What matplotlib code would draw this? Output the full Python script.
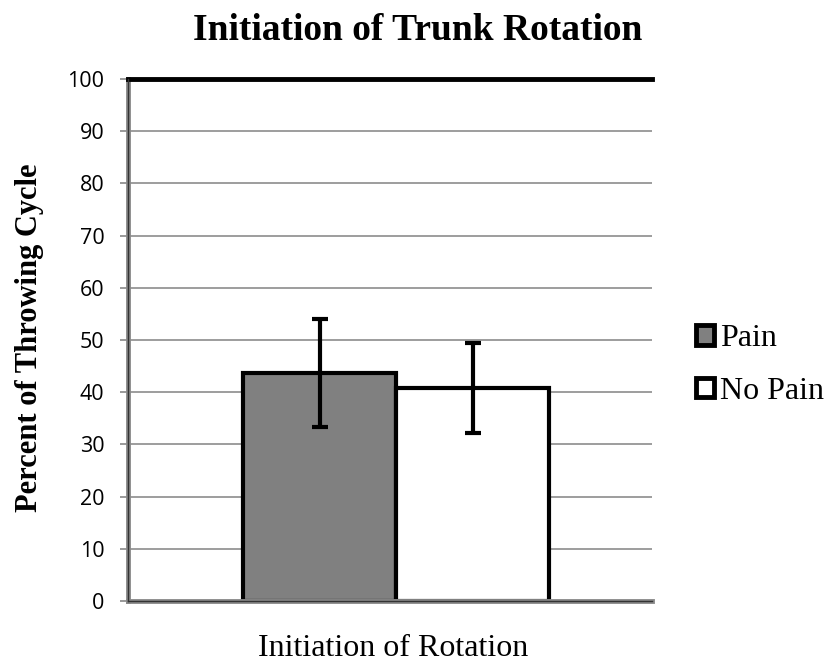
import matplotlib
matplotlib.use("Agg")
import matplotlib.pyplot as plt
from matplotlib.patches import Patch

categories = ["Initiation of Rotation"]
series = ["Pain", "No Pain"]
means = [43.7, 40.8]
errors = [10.3, 8.7]
colors = ["#808080", "#ffffff"]
yticks = [0, 10, 20, 30, 40, 50, 60, 70, 80, 90, 100]

fig = plt.figure(figsize=(8.3, 6.66), dpi=100)
ax = fig.add_axes([0.1542, 0.0976, 0.6313, 0.7838])

w = 0.292
offsets = [-w / 2, w / 2]
for i, s in enumerate(series):
    ax.bar(0 + offsets[i], means[i], width=w, color=colors[i], edgecolor="black",
           linewidth=3, label=s, zorder=3)
    ax.errorbar(0 + offsets[i], means[i], yerr=errors[i], fmt="none", ecolor="black",
                elinewidth=3, capsize=6, capthick=3, zorder=4)

ax.set_xlim(-0.512, 0.488)
ax.set_ylim(0, 100)
ax.set_yticks(yticks)
ax.set_yticklabels([str(v) for v in yticks], fontsize=15.5, family="Open Sans")
ax.set_xticks([0])
ax.set_xticklabels([""])
ax.tick_params(axis="x", length=0)
ax.tick_params(axis="y", length=6, color="#888888", width=1.2, pad=11)
ax.grid(axis="y", color="#8c8c8c", linewidth=1.2, zorder=0)
ax.set_axisbelow(True)

ax.spines["right"].set_visible(False)
ax.spines["top"].set_color("black")
ax.spines["top"].set_linewidth(3.5)
ax.spines["top"].set_zorder(5)
for sp in ["left", "bottom"]:
    ax.spines[sp].set_color("#8a8a8a")
    ax.spines[sp].set_linewidth(3.5)
    ax.spines[sp].set_zorder(5)
# dark core of the double axis lines
ax.axvline(ax.get_xlim()[0], color="#333333", linewidth=1.0, zorder=6, clip_on=False)
ax.axhline(0, color="#333333", linewidth=1.0, zorder=6, clip_on=False)

fig.text(0.503, 0.94, "Initiation of Trunk Rotation", fontsize=27, fontweight="bold",
         family="Liberation Serif", ha="center", va="baseline")
fig.text(0.035, 0.493, "Percent of Throwing Cycle", fontsize=22, fontweight="bold",
         family="Liberation Serif", rotation=90, ha="center", va="center")
fig.text(0.474, 0.015, categories[0], fontsize=23, family="Liberation Serif",
         ha="center", va="baseline")

handles = [Patch(facecolor=colors[i], edgecolor="black", linewidth=3.5, label=series[i])
           for i in range(2)]
leg = fig.legend(handles=handles, loc="center left", bbox_to_anchor=(0.839, 0.452),
                 frameon=False, prop={"family": "Liberation Serif", "size": 23},
                 handlelength=0.55, handleheight=0.55, handletextpad=0.2,
                 labelspacing=0.73, borderpad=0, borderaxespad=0)

fig.savefig("out.png", dpi=100)
